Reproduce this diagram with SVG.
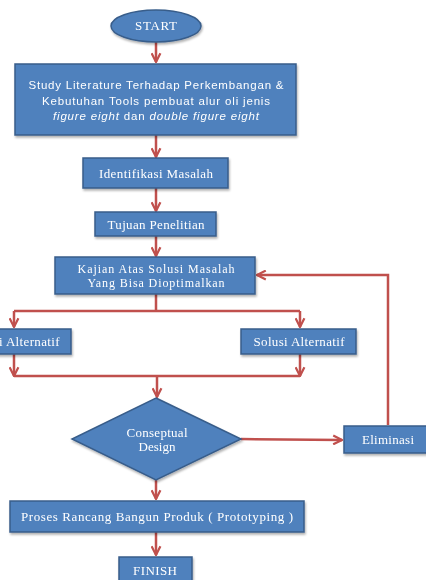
<svg xmlns="http://www.w3.org/2000/svg" width="426" height="580" viewBox="0 0 426 580">
<style>
.n{fill:#4F81BD;stroke:#385D8A;stroke-width:1.5}
.t{fill:#fff;font-family:"Liberation Serif",serif;font-size:13px;text-anchor:middle}
.k{font-size:12px}
.s{fill:#fff;font-family:"Liberation Sans",sans-serif;font-size:11.5px;text-anchor:middle}
.c{fill:none;stroke:#C0504D;stroke-width:2.5}
</style>
<defs>
<marker id="a" viewBox="0 0 10 10" refX="9" refY="5" markerWidth="4.4" markerHeight="4.4" orient="auto" markerUnits="strokeWidth">
<path d="M1,1 L9,5 L1,9" fill="none" stroke="#C0504D" stroke-width="2"/>
</marker>
<filter id="sh" x="-10%" y="-10%" width="120%" height="130%"><feDropShadow dx="1" dy="2" stdDeviation="1" flood-color="#000" flood-opacity="0.3"/></filter>
</defs>
<rect width="426" height="580" fill="#fff"/>
<g id="connectors">
<path class="c" marker-end="url(#a)" d="M156,42 V62"/>
<path class="c" marker-end="url(#a)" d="M156,135 V157"/>
<path class="c" marker-end="url(#a)" d="M156,188 V211"/>
<path class="c" marker-end="url(#a)" d="M156,236 V256"/>
<path class="c" d="M156,294 V311 M14,311 H300"/>
<path class="c" marker-end="url(#a)" d="M14,311 V327"/>
<path class="c" marker-end="url(#a)" d="M300,311 V327"/>
<path class="c" marker-end="url(#a)" d="M14,354 V376"/>
<path class="c" marker-end="url(#a)" d="M300,354 V376"/>
<path class="c" d="M14,376 H300"/>
<path class="c" marker-end="url(#a)" d="M157,376 V397"/>
<path class="c" marker-end="url(#a)" d="M241,439 L342,440"/>
<path class="c" marker-end="url(#a)" d="M388,425 V275 H257"/>
<path class="c" marker-end="url(#a)" d="M156,480 V499"/>
<path class="c" marker-end="url(#a)" d="M156,532 V555"/>
</g>
<g id="start" filter="url(#sh)"><ellipse class="n" cx="156" cy="26" rx="45" ry="16"/><text class="t" x="156" y="30" textLength="42">START</text></g>
<g id="study" filter="url(#sh)"><rect class="n" x="15" y="64" width="281" height="71"/>
<text class="s" x="156" y="89" textLength="255" lengthAdjust="spacing">Study Literature Terhadap Perkembangan &amp;</text>
<text class="s" x="156" y="105" textLength="228" lengthAdjust="spacing">Kebutuhan Tools pembuat alur oli jenis</text>
<text class="s" x="156" y="120" textLength="206" lengthAdjust="spacing"><tspan font-style="italic">figure eight</tspan> dan <tspan font-style="italic">double figure eight</tspan></text></g>
<g id="identifikasi" filter="url(#sh)"><rect class="n" x="83" y="158" width="145" height="30"/><text class="t" x="156" y="178" textLength="114" lengthAdjust="spacing">Identifikasi  Masalah</text></g>
<g id="tujuan" filter="url(#sh)"><rect class="n" x="95" y="212" width="121" height="24"/><text class="t" x="156" y="229" textLength="97" lengthAdjust="spacing">Tujuan  Penelitian</text></g>
<g id="kajian" filter="url(#sh)"><rect class="n" x="55" y="257" width="200" height="37"/>
<text class="t k" x="156" y="273" textLength="157" lengthAdjust="spacing">Kajian  Atas  Solusi  Masalah</text>
<text class="t k" x="156" y="287" textLength="137" lengthAdjust="spacing">Yang  Bisa  Dioptimalkan</text></g>
<g id="solusi1" filter="url(#sh)"><rect class="n" x="-44" y="329" width="115" height="25"/><text class="t" x="14" y="346" textLength="91" lengthAdjust="spacing">Solusi  Alternatif</text></g>
<g id="solusi2" filter="url(#sh)"><rect class="n" x="241" y="329" width="115" height="25"/><text class="t" x="299" y="346" textLength="91" lengthAdjust="spacing">Solusi  Alternatif</text></g>
<g id="conseptual" filter="url(#sh)"><polygon class="n" points="156,398 241,439 156,480 72,439"/>
<text class="t" x="157" y="437" textLength="61" lengthAdjust="spacing">Conseptual</text>
<text class="t" x="157" y="451">Design</text></g>
<g id="eliminasi" filter="url(#sh)"><rect class="n" x="344" y="426" width="86" height="27"/><text class="t" x="388" y="444" textLength="52" lengthAdjust="spacing">Eliminasi</text></g>
<g id="proses" filter="url(#sh)"><rect class="n" x="10" y="501" width="294" height="31"/><text class="t" x="157" y="521" textLength="272" lengthAdjust="spacing">Proses Rancang  Bangun  Produk ( Prototyping  )</text></g>
<g id="finish" filter="url(#sh)"><rect class="n" x="119" y="557" width="73" height="26"/><text class="t" x="155" y="575" textLength="44" lengthAdjust="spacing">FINISH</text></g>
</svg>
